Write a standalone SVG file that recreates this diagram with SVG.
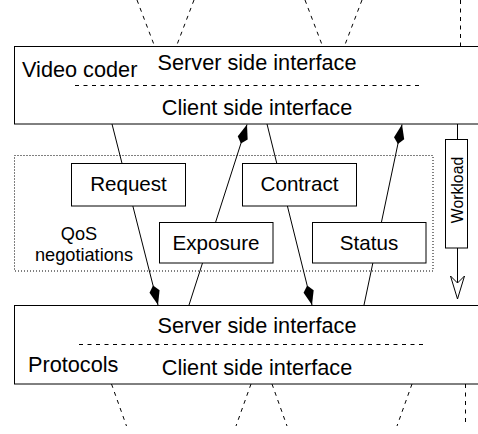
<svg xmlns="http://www.w3.org/2000/svg" width="478" height="434" viewBox="0 0 478 434">
<defs>
<style>
text{font-family:"Liberation Sans",Arial,Helvetica,sans-serif;fill:#000}
.big{font-size:21.7px}
.lbl{font-size:20.6px;text-anchor:middle}
.box{fill:#fff;stroke:#000;stroke-width:1}
.dash{stroke:#000;stroke-width:1;stroke-dasharray:4 4.5;fill:none}
.conn{stroke:#000;stroke-width:1;fill:none}
</style>
<marker id="kite" markerUnits="userSpaceOnUse" markerWidth="22" markerHeight="14" refX="20" refY="6" orient="auto">
<path d="M20,6 L6,0.8 L0,6 L6,11.2 Z" fill="#000"/>
</marker>
<marker id="open" markerUnits="userSpaceOnUse" markerWidth="26" markerHeight="16" refX="24" refY="7.5" orient="auto">
<path d="M24,7.5 L1,0.5 L8,7.5 L1,14.5 Z" fill="#fff" stroke="#000" stroke-width="1"/>
</marker>
</defs>
<rect width="478" height="434" fill="#fff"/>

<g id="outer-lines">
<line class="dash" x1="137" y1="0" x2="154.5" y2="46"/>
<line class="dash" x1="194" y1="0" x2="176.5" y2="46"/>
<line class="dash" x1="305" y1="0" x2="322.5" y2="46"/>
<line class="dash" x1="362" y1="0" x2="344.5" y2="46"/>
<line class="dash" x1="460.5" y1="0" x2="460.5" y2="46"/>
<line class="dash" x1="111.5" y1="384" x2="126.5" y2="426"/>
<line class="dash" x1="251" y1="384" x2="236" y2="426"/>
<line class="dash" x1="272" y1="384" x2="287" y2="426"/>
<line class="dash" x1="412" y1="384" x2="397" y2="426"/>
<line class="dash" x1="465.5" y1="384" x2="465.5" y2="426"/>
</g>

<g id="connectors">
<line class="conn" x1="112" y1="124" x2="158" y2="305" marker-end="url(#kite)"/>
<line class="conn" x1="189" y1="305" x2="247" y2="124.5" marker-end="url(#kite)"/>
<line class="conn" x1="267" y1="124" x2="312" y2="305" marker-end="url(#kite)"/>
<line class="conn" x1="364" y1="305" x2="402" y2="124.5" marker-end="url(#kite)"/>
<line class="conn" x1="457.5" y1="124" x2="457.5" y2="139"/>
<line class="conn" x1="457.5" y1="248" x2="457.5" y2="299" marker-end="url(#open)"/>
</g>

<g id="video-coder">
<rect class="box" x="14.5" y="46.5" width="480" height="77.5"/>
<text class="big" x="22" y="77">Video coder</text>
<text class="big" x="257" y="70" text-anchor="middle">Server side interface</text>
<line x1="75" y1="85.5" x2="421" y2="85.5" stroke="#000" stroke-dasharray="4 4.5"/>
<text class="big" x="257" y="115" text-anchor="middle">Client side interface</text>
</g>

<g id="qos">
<rect x="14.5" y="155.5" width="418.5" height="115.5" fill="none" stroke="#000" stroke-dasharray="1 2"/>
<text x="79" y="240" font-size="18.2" text-anchor="middle">QoS</text>
<text x="84" y="261" font-size="18.2" text-anchor="middle">negotiations</text>
</g>

<g id="request">
<rect class="box" x="71.5" y="163.5" width="114" height="42.5"/>
<text class="lbl" x="128.5" y="191">Request</text>
</g>
<g id="contract">
<rect class="box" x="242.5" y="163.5" width="114" height="42.5"/>
<text class="lbl" x="299.5" y="191">Contract</text>
</g>
<g id="exposure">
<rect class="box" x="159.5" y="222.5" width="113.5" height="40.5"/>
<text class="lbl" x="216" y="249.5">Exposure</text>
</g>
<g id="status">
<rect class="box" x="312.5" y="222.5" width="113.5" height="40.5"/>
<text class="lbl" x="369" y="249.5">Status</text>
</g>

<g id="workload">
<rect class="box" x="445.5" y="139.5" width="22" height="108.5"/>
<text x="462.5" y="190" font-size="15.8" text-anchor="middle" transform="rotate(-90 462.5 190)">Workload</text>
</g>

<g id="protocols">
<rect class="box" x="14.5" y="305.5" width="480" height="78.5"/>
<text class="big" x="257" y="333" text-anchor="middle">Server side interface</text>
<line x1="79" y1="344.5" x2="424" y2="344.5" stroke="#000" stroke-dasharray="4 4.5"/>
<text class="big" x="28" y="371.5">Protocols</text>
<text class="big" x="257" y="375" text-anchor="middle">Client side interface</text>
</g>
</svg>
